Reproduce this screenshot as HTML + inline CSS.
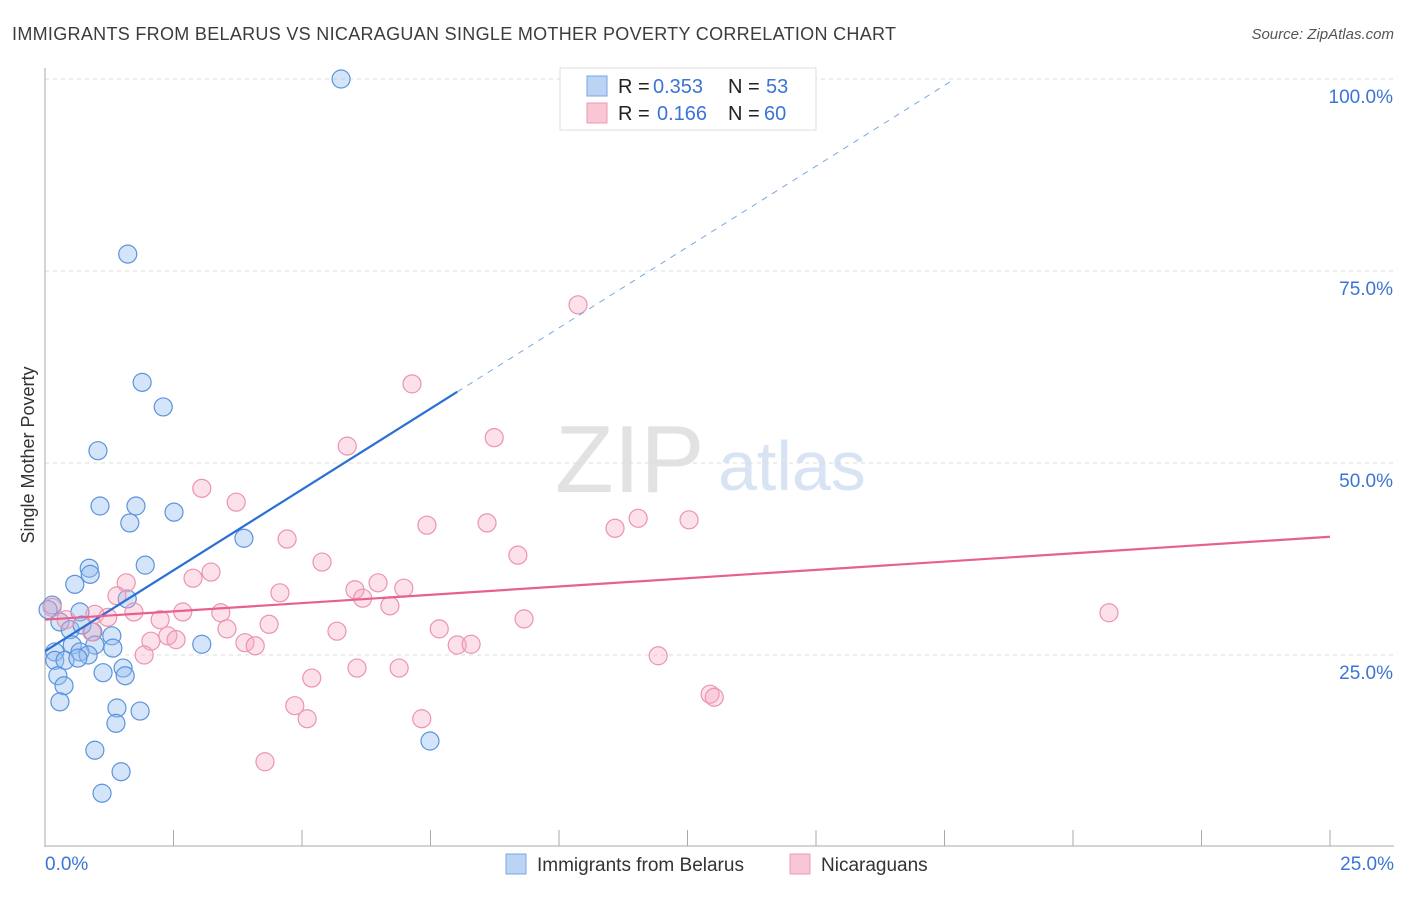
<!DOCTYPE html>
<html><head><meta charset="utf-8"><style>
body{margin:0;background:#fff;font-family:"Liberation Sans",sans-serif;}
svg text{font-family:"Liberation Sans",sans-serif;}
</style></head><body>
<svg id="chart" width="1406" height="892">
<text x="12" y="40" font-size="18" fill="#3c3c3c" textLength="884" lengthAdjust="spacing">IMMIGRANTS FROM BELARUS VS NICARAGUAN SINGLE MOTHER POVERTY CORRELATION CHART</text>
<text x="1394" y="39" font-size="15" fill="#555" font-style="italic" text-anchor="end">Source: ZipAtlas.com</text>
<text x="34" y="455" font-size="18" fill="#333" text-anchor="middle" transform="rotate(-90 34 455)">Single Mother Poverty</text>
<text x="555" y="492" font-size="96" fill="#e2e2e2" font-family="Liberation Serif">ZIP</text>
<text x="718" y="490" font-size="70" fill="#d8e4f4">atlas</text>
<g id="grid"></g><g id="axes"></g><g id="pts"></g><g id="trend"></g>
<g>
<rect x="560" y="68" width="256" height="62" fill="#fff" stroke="#ddd"/>
<rect x="587" y="76" width="20" height="20" fill="#bcd4f4" stroke="#7aa6e6"/>
<rect x="587" y="103" width="20" height="20" fill="#f8c6d4" stroke="#eb9ab2"/>
<text x="618" y="93" font-size="20" fill="#222">R =</text>
<text x="653" y="93" font-size="20" fill="#3a75d6">0.353</text>
<text x="728" y="93" font-size="20" fill="#222">N =</text>
<text x="766" y="93" font-size="20" fill="#3a75d6">53</text>
<text x="618" y="120" font-size="20" fill="#222">R =</text>
<text x="657" y="120" font-size="20" fill="#3a75d6">0.166</text>
<text x="728" y="120" font-size="20" fill="#222">N =</text>
<text x="764" y="120" font-size="20" fill="#3a75d6">60</text>
</g>
<g>
<rect x="506" y="854" width="20" height="20" fill="#bcd4f4" stroke="#7aa6e6"/>
<text x="537" y="871" font-size="19" fill="#333">Immigrants from Belarus</text>
<rect x="790" y="854" width="20" height="20" fill="#f8c6d4" stroke="#eb9ab2"/>
<text x="821" y="871" font-size="19" fill="#333">Nicaraguans</text>
</g>
</svg>
<script>
const xTicks=[0,2.5,5,7.5,10,12.5,15,17.5,20,22.5,25];
const yTicks=[25,50,75,100];
const yTickLabels=["25.0%","50.0%","75.0%","100.0%"];
const blueX=[5.76,1.61,1.89,2.30,1.03,1.07,1.77,1.65,2.51,3.87,0.86,0.88,1.95,0.58,1.60,0.14,0.68,0.29,0.49,0.93,1.30,0.72,0.53,0.97,1.32,0.19,0.68,0.84,0.19,0.39,0.64,3.05,1.52,1.56,1.13,0.25,0.37,0.29,1.40,1.85,1.38,0.97,1.48,1.11,7.49,0.06];
const blueY=[100,77.2,60.5,57.3,51.6,44.4,44.4,42.2,43.6,40.2,36.3,35.5,36.7,34.2,32.3,31.5,30.6,29.3,28.3,28.0,27.5,28.9,26.3,26.3,25.9,25.4,25.4,25.0,24.3,24.3,24.6,26.4,23.3,22.3,22.7,22.3,21.0,18.9,18.1,17.7,16.1,12.6,9.8,7.0,13.8,30.9];
const pinkX=[10.37,7.14,8.74,5.88,3.05,3.72,4.71,7.43,8.60,11.09,11.54,12.53,9.20,5.39,3.23,2.88,1.58,6.48,6.03,6.98,6.18,4.57,1.40,6.71,2.68,3.42,1.73,0.97,1.22,2.24,20.7,9.32,0.14,0.41,0.91,3.54,4.36,5.68,7.67,2.39,2.55,2.06,3.89,4.09,8.02,8.29,1.93,11.93,6.07,6.89,5.19,12.94,13.02,4.86,5.10,7.33,4.28];
const pinkY=[70.6,60.3,53.3,52.2,46.7,44.9,40.1,41.9,42.2,41.5,42.8,42.6,38.0,37.1,35.8,35.0,34.4,34.4,33.5,33.7,32.4,33.1,32.7,31.4,30.6,30.5,30.6,30.3,29.9,29.6,30.5,29.7,31.2,29.6,28.0,28.4,29.0,28.1,28.4,27.5,27.0,26.8,26.6,26.2,26.3,26.4,25.0,24.9,23.3,23.3,22.0,19.9,19.5,18.4,16.7,16.7,11.1];
const blueTrend=[25.5,4.21];
const pinkTrend=[29.6,0.432];
const NS="http://www.w3.org/2000/svg";
const X=v=>45+v/25*1285, Y=v=>847-v/100*768;
function mk(p,t,a){const e=document.createElementNS(NS,t);for(const k in a)e.setAttribute(k,a[k]);document.getElementById(p).appendChild(e);return e;}
yTicks.forEach((t,i)=>{
 const g=mk('grid','line',{x1:45,x2:1394,y1:Y(t),y2:Y(t),stroke:'#ddd','stroke-dasharray':'4,4'});
 
 
 const l=mk('grid','text',{x:1393,y:Y(t)+24,'font-size':19,fill:'#3a75d6','text-anchor':'end'});l.textContent=yTickLabels[i];
 
 
});
mk('axes','line',{x1:45,x2:45,y1:68,y2:847,stroke:'#aaa'});
mk('axes','line',{x1:45,x2:1394,y1:846,y2:846,stroke:'#aaa'});
xTicks.forEach(t=>{const e=mk('axes','line',{x1:X(t),x2:X(t),y1:830,y2:846,stroke:'#aaa'});
 
 });
[[0,"0.0%",45,'start'],[25,"25.0%",1394,'end']].forEach(a=>{const l=mk('axes','text',{x:a[2],y:870,'font-size':19,fill:'#3a75d6','text-anchor':a[3]});l.textContent=a[1];
 
 });
blueX.forEach((v,i)=>{const c=mk('pts','circle',{cx:X(v),cy:Y(blueY[i]),r:9,fill:'rgba(150,190,240,0.4)',stroke:'#5a93dd','stroke-width':1.2});
 
 });
pinkX.forEach((v,i)=>{const c=mk('pts','circle',{cx:X(v),cy:Y(pinkY[i]),r:9,fill:'rgba(245,170,195,0.35)',stroke:'#ec93b0','stroke-width':1.2});
 
 });
const bx1=8.02, bx2=(100-blueTrend[0])/blueTrend[1];
let e=mk('trend','line',{x1:X(0),y1:Y(blueTrend[0]),x2:X(bx1),y2:Y(blueTrend[0]+blueTrend[1]*bx1),stroke:'#2a6fd6','stroke-width':2.2});


e=mk('trend','line',{x1:X(bx1),y1:Y(blueTrend[0]+blueTrend[1]*bx1),x2:X(bx2),y2:Y(100),stroke:'#7aa6e6','stroke-width':1,'stroke-dasharray':'6,6'});


e=mk('trend','line',{x1:X(0),y1:Y(pinkTrend[0]),x2:X(25),y2:Y(pinkTrend[0]+pinkTrend[1]*25),stroke:'#e8608c','stroke-width':2.2});


</script>
</body></html>
